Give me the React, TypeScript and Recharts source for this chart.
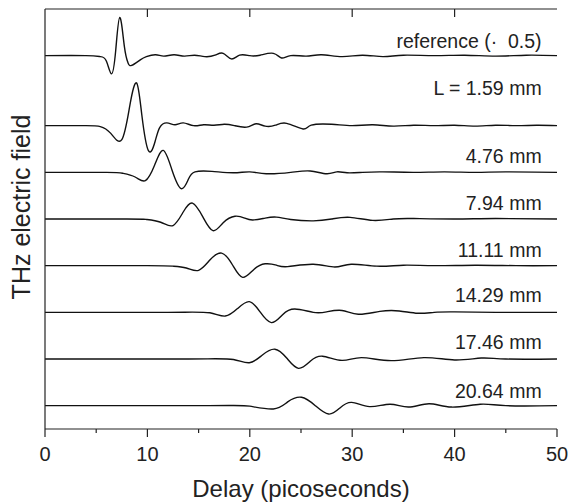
import { Label, Line, LineChart, ReferenceDot, XAxis, YAxis } from "recharts";

const INK = "#222";
const FONT = "'Liberation Sans', Arial, sans-serif";

// Each trace: [delay ps, field offset from its own baseline]
const REF: [number, number][] = [
  [0, 0], [4, 0], [5.4, -0.02], [6, -0.12], [6.5, -0.39], [6.9, 0.1], [7.3, 0.82],
  [7.75, 0.2], [8.1, -0.15], [8.45, -0.21], [9.3, -0.09], [9.9, -0.02], [10.8, 0.02],
  [11.6, -0.01], [12.6, 0.02], [13.6, -0.01], [14.6, 0.01], [15.6, -0.02], [16.6, 0.01],
  [17.4, 0.05], [18.2, -0.07], [19, 0.01], [20, 0], [21, 0.01], [22.3, 0.05], [23.1, -0.05],
  [24, 0], [25.5, -0.01], [27, 0.02], [29, -0.02], [31, 0.01], [33, -0.02], [35, 0.01],
  [38, 0], [41, 0.01], [44, -0.01], [47, 0.01], [50, 0],
];
const L159: [number, number][] = [
  [0, 0], [4, 0], [5.4, -0.02], [6.4, -0.16], [7.5, -0.3], [8.3, 0.45], [8.95, 0.915],
  [9.45, 0.24], [10.1, -0.535], [10.75, -0.34], [11.2, -0.04], [11.9, 0.06], [12.7, 0.02],
  [13.5, 0.06], [14.5, 0], [15.5, 0.02], [16.5, 0.01], [17.5, 0.03], [18.5, 0], [19.7, -0.03],
  [20.6, 0.04], [21.5, -0.01], [22.5, 0.01], [23.6, 0.05], [25.2, -0.07], [26, 0.01],
  [28, 0.03], [30, 0], [32, 0.02], [34, -0.01], [36, 0.01], [38, 0], [40, 0.01], [42, -0.01],
  [44, 0.01], [46, 0], [48, 0.01], [50, 0],
];
const L476: [number, number][] = [
  [0, 0], [6, 0], [7.6, -0.02], [8.8, -0.1], [9.8, -0.18], [10.7, 0.15], [11.55, 0.47],
  [12.4, 0.05], [13.3, -0.35], [14, -0.15], [14.65, 0.01], [16.3, 0.02], [18.4, -0.01],
  [20, 0.01], [21.6, -0.03], [24, 0], [25.9, 0.03], [27.5, -0.03], [28.5, 0.01], [29.5, -0.01],
  [31, 0], [33, 0.01], [36, 0], [39, 0.01], [42, 0], [45, 0.01], [50, 0],
];
const L794: [number, number][] = [
  [0, 0], [8, 0], [9.9, -0.01], [11.3, -0.07], [12.5, -0.14], [13.5, 0.15], [14.4, 0.34],
  [15.4, 0.05], [16.4, -0.25], [17.4, -0.08], [18.55, 0.06], [19.5, 0.02], [20.3, -0.02],
  [21.5, 0.02], [22.6, 0.04], [24, -0.01], [26.2, -0.04], [28, 0], [29.8, 0.035],
  [32, -0.03], [34, 0], [36, 0.01], [40, 0], [44, 0.01], [50, 0],
];
const L1111: [number, number][] = [
  [0, 0], [10, 0], [12.5, -0.01], [13.8, -0.05], [15, -0.1], [16.1, 0.12], [17.25, 0.27],
  [18.3, 0.02], [19.3, -0.25], [20.4, -0.08], [21.5, 0.04], [22.6, 0.01], [23.7, -0.02],
  [26.2, 0.03], [28.3, -0.03], [29.9, 0.03], [32.4, -0.01], [35, 0.01], [38, 0], [42, 0.01],
  [46, 0], [50, 0],
];
const L1429: [number, number][] = [
  [0, 0], [12, 0], [16.1, -0.01], [17.6, -0.08], [18.8, 0.08], [19.95, 0.23], [21, 0.01],
  [22.1, -0.22], [23.2, -0.05], [24.4, 0.07], [26.2, 0], [27.5, 0.01], [29, 0.04],
  [30.6, -0.04], [32.7, 0.02], [34.6, 0.03], [36.4, -0.02], [38, 0], [40, 0.01], [44, 0],
  [50, 0],
];
const L1746: [number, number][] = [
  [0, 0], [14, 0], [18.4, -0.01], [19.95, -0.08], [21.2, 0.08], [22.45, 0.21], [23.6, 0.02],
  [24.75, -0.2], [25.9, -0.05], [27.1, 0.06], [29, -0.03], [30.9, 0.03], [33.8, -0.035],
  [37, 0.03], [40, -0.02], [42.6, 0.02], [45, 0], [50, 0],
];
const L2064: [number, number][] = [
  [0, 0], [16, 0], [20, -0.01], [22.3, -0.07], [23.7, 0.08], [25.05, 0.18], [26.4, 0],
  [27.7, -0.18], [28.8, -0.05], [29.95, 0.07], [31.7, -0.02], [33.7, 0.03], [35.5, -0.03],
  [37.5, 0.04], [39.7, -0.03], [42.5, 0.03], [45, 0], [50, 0],
];

const TRACES = [REF, L159, L476, L794, L1111, L1429, L1746, L2064];
const BASELINES = [7.5, 6, 5, 4, 3, 2, 1, 0];
const LABELS = [
  "reference (·\u00a0 0.5)",
  "L = 1.59 mm",
  "4.76 mm",
  "7.94 mm",
  "11.11 mm",
  "14.29 mm",
  "17.46 mm",
  "20.64 mm",
];
const LABEL_Y = [7.82, 6.81, 5.34, 4.34, 3.34, 2.36, 1.36, 0.32];
const LABEL_X = 48.5;

const X_MIN = 0;
const X_MAX = 50;
const X_TICKS = [0, 5, 10, 15, 20, 25, 30, 35, 40, 45, 50];
const TOP_TICKS = [10, 20, 30, 40];
const Y_TICKS = [0, 1, 2, 3, 4, 5, 6, 7, 8];
const Y_MIN = -0.5;
const Y_MAX = 8.5;

// layout
const W = 572;
const H = 504;
const MARGIN = { top: 9, right: 15, bottom: 0, left: 0 };
const XAXIS_H = 75;
const YAXIS_W = 45;
const PLOT_W = W - MARGIN.left - MARGIN.right - YAXIS_W;
const PLOT_H = H - MARGIN.top - MARGIN.bottom - XAXIS_H;

const series = TRACES.map((pts, i) => ({
  key: LABELS[i],
  data: pts.map(([t, v]) => ({ t, y: BASELINES[i] + v })),
}));

// bottom ticks + labels; also draws the top frame edge and its inward ticks
function BottomTick(props: any) {
  const { x, y, payload } = props;
  const v = payload.value;
  const major = v % 10 === 0;
  const top = y - PLOT_H;
  return (
    <g>
      <line x1={x} x2={x} y1={y} y2={y + (major ? 8 : 4)} stroke={INK} strokeWidth={1.2} />
      {v === X_MIN && <line x1={x} x2={x + PLOT_W} y1={top} y2={top} stroke={INK} strokeWidth={1.2} />}
      {TOP_TICKS.includes(v) && <line x1={x} x2={x} y1={top} y2={top + 8} stroke={INK} strokeWidth={1.2} />}
      {major && (
        <text x={x} y={y + 18} dy="0.71em" textAnchor="middle" fontSize={20} fill={INK} fontFamily={FONT}>
          {v}
        </text>
      )}
    </g>
  );
}

function YTitle(props: any) {
  const vb = props.viewBox;
  const cx = vb.x + 30;
  const cy = vb.y + vb.height / 2 - 12;
  return (
    <text x={cx} y={cy} transform={`rotate(-90 ${cx} ${cy})`} textAnchor="middle" fontSize={25} fill={INK} fontFamily={FONT}>
      THz electric field
    </text>
  );
}

export default function App() {
  return (
    <div style={{ position: "absolute", left: 0, top: 0, background: "#fff" }}>
      <LineChart width={W} height={H} margin={MARGIN}>
        <XAxis
          dataKey="t"
          type="number"
          domain={[X_MIN, X_MAX]}
          ticks={X_TICKS}
          interval={0}
          height={XAXIS_H}
          tickSize={0}
          tickMargin={0}
          tickLine={false}
          tick={<BottomTick />}
          axisLine={{ stroke: INK, strokeWidth: 1.2 }}
        >
          <Label value="Delay (picoseconds)" position="insideBottom" offset={7} fontSize={24} fill={INK} fontFamily={FONT} />
        </XAxis>
        <YAxis
          type="number"
          domain={[Y_MIN, Y_MAX]}
          ticks={Y_TICKS}
          width={YAXIS_W}
          tickSize={8}
          tick={false}
          tickLine={{ stroke: INK, strokeWidth: 1.2 }}
          axisLine={{ stroke: INK, strokeWidth: 1.2 }}
        >
          <Label content={<YTitle />} />
        </YAxis>
        <YAxis
          yAxisId="right"
          orientation="right"
          type="number"
          domain={[Y_MIN, Y_MAX]}
          width={0}
          tick={false}
          tickLine={false}
          axisLine={{ stroke: INK, strokeWidth: 1.2 }}
        />
        {series.map((s) => (
          <Line
            key={s.key}
            data={s.data}
            dataKey="y"
            type="natural"
            stroke="#111"
            strokeWidth={1.4}
            dot={false}
            activeDot={false}
            isAnimationActive={false}
          />
        ))}
        {LABELS.map((txt, i) => (
          <ReferenceDot
            key={txt}
            x={LABEL_X}
            y={LABEL_Y[i]}
            r={0}
            fill="none"
            stroke="none"
            label={{ value: txt, position: "left", offset: 0, fontSize: 19.5, fill: INK, fontFamily: FONT }}
          />
        ))}
      </LineChart>
    </div>
  );
}
